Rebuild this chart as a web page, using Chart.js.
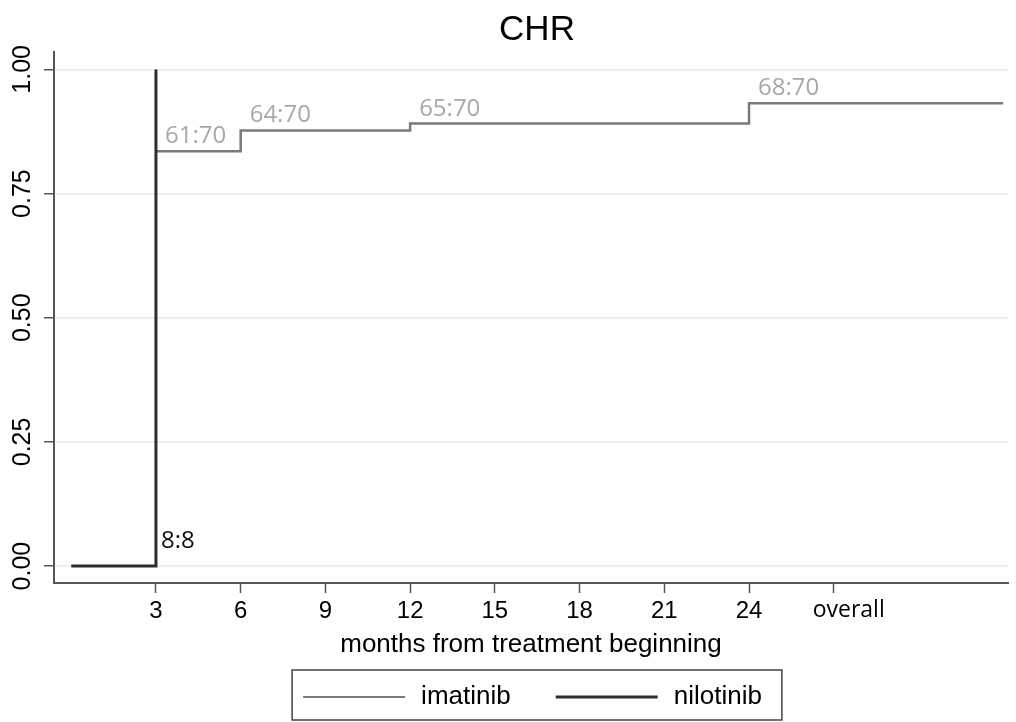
<!DOCTYPE html>
<html><head><meta charset="utf-8">
<script src="https://cdn.jsdelivr.net/npm/chart.js@4"></script>
<style>html,body{margin:0;padding:0;background:#fff;}#wrap{width:1016px;height:722px;}</style>
</head><body><div id="wrap"><canvas id="c" width="1016" height="722"></canvas></div>
<script>
// ---- data ----
const chartTitle = 'CHR';
const xAxisTitle = 'months from treatment beginning';
const seriesNames = ['imatinib', 'nilotinib'];
const imatinibMonths = [3, 6, 12, 24, 33];
const imatinibRates = [0.835, 0.877, 0.891, 0.932, 0.932];
const imatinibLabels = ['61:70', '64:70', '65:70', '68:70', ''];
const nilotinibMonths = [0, 3];
const nilotinibRates = [0, 1];
const nilotinibLabels = ['8:8', ''];
const xTickValues = [3, 6, 9, 12, 15, 18, 21, 24, 27];
const xTickLabels = ['3', '6', '9', '12', '15', '18', '21', '24', 'overall'];
const yTickValues = [0, 0.25, 0.5, 0.75, 1];
const yTickLabels = ['0.00', '0.25', '0.50', '0.75', '1.00'];

// ---- styles ----
const imatinibColor = '#7a7a7a';
const nilotinibColor = '#2e2e2e';
const imatinibLabelColor = '#a8a8a8';
const nilotinibLabelColor = '#111';
const axisColor = '#555';
const gridColor = '#e3ebef';
const sansFont = '"Liberation Sans", Arial, Helvetica, sans-serif';
const labelFont = '"Open Sans", sans-serif';

const toPoints = (xs, ys) => xs.map((x, i) => ({x: x, y: ys[i]}));

const decorPlugin = {
  id: 'decor',
  afterDatasetsDraw(chart) {
    const ctx = chart.ctx;
    ctx.save();
    ctx.font = '24px ' + labelFont;
    ctx.textAlign = 'left';
    ctx.textBaseline = 'alphabetic';
    const m0 = chart.getDatasetMeta(0).data;
    ctx.fillStyle = imatinibLabelColor;
    imatinibLabels.forEach((t, i) => {
      if (!t) return;
      ctx.fillText(t, m0[i].x + 9, m0[i].y - 8);
    });
    const m1 = chart.getDatasetMeta(1).data;
    ctx.fillStyle = nilotinibLabelColor;
    nilotinibLabels.forEach((t, i) => {
      if (!t || !m1[i + 1]) return;
      ctx.fillText(t, m1[i + 1].x + 5, m1[i].y - 18);
    });
    ctx.restore();
  },
  afterDraw(chart) {
    const ctx = chart.ctx;
    const ca = chart.chartArea;
    const cx = (ca.left + ca.right) / 2 + 6;
    ctx.save();
    ctx.fillStyle = '#000';
    ctx.font = '35px ' + sansFont;
    ctx.textAlign = 'center';
    ctx.textBaseline = 'alphabetic';
    ctx.fillText(chartTitle, cx, 40);
    ctx.font = '26px ' + sansFont;
    const lineLen = 102, gapText = 16, gapItems = 45, padL = 11, padR = 20;
    const w0 = ctx.measureText(seriesNames[0]).width;
    const w1 = ctx.measureText(seriesNames[1]).width;
    const boxW = padL + lineLen + gapText + w0 + gapItems + lineLen + gapText + w1 + padR;
    const boxL = cx - boxW / 2, boxT = 670, boxH = 50;
    ctx.strokeStyle = '#444';
    ctx.lineWidth = 1.5;
    ctx.strokeRect(boxL, boxT, boxW, boxH);
    const ly = boxT + boxH / 2 + 2;
    const colors = [imatinibColor, nilotinibColor];
    const widths = [2, 3];
    let x = boxL + padL;
    [w0, w1].forEach((w, i) => {
      ctx.strokeStyle = colors[i];
      ctx.lineWidth = widths[i];
      ctx.beginPath();
      ctx.moveTo(x, ly); ctx.lineTo(x + lineLen, ly);
      ctx.stroke();
      x += lineLen + gapText;
      ctx.fillStyle = '#000';
      ctx.textAlign = 'left';
      ctx.textBaseline = 'middle';
      ctx.fillText(seriesNames[i], x, ly);
      x += w + gapItems;
    });
    ctx.restore();
  }
};

new Chart(document.getElementById('c'), {
  type: 'line',
  data: {
    datasets: [
      {
        label: seriesNames[0],
        data: toPoints(imatinibMonths, imatinibRates),
        borderColor: imatinibColor,
        borderWidth: 2.5,
        stepped: 'before',
        pointRadius: 0,
        fill: false,
        order: 1
      },
      {
        label: seriesNames[1],
        data: toPoints(nilotinibMonths, nilotinibRates),
        borderColor: nilotinibColor,
        borderWidth: 3,
        stepped: 'before',
        pointRadius: 0,
        fill: false,
        order: 0
      }
    ]
  },
  options: {
    responsive: false,
    animation: false,
    devicePixelRatio: 1,
    layout: {padding: {top: 52, right: 8, bottom: 62, left: 0}},
    plugins: {legend: {display: false}, title: {display: false}, tooltip: {enabled: false}},
    scales: {
      x: {
        type: 'linear',
        min: -0.61,
        max: 33.17,
        afterBuildTicks: s => { s.ticks = xTickValues.map(v => ({value: v})); },
        afterFit: s => { s.height = 77; },
        grid: {drawOnChartArea: false, drawTicks: true, tickLength: 10, tickColor: axisColor, tickWidth: 1.5},
        border: {display: true, color: axisColor, width: 2},
        ticks: {
          autoSkip: false,
          maxRotation: 0,
          minRotation: 0,
          padding: 4,
          color: '#000',
          font: c => (c.tick && c.tick.value === 27) ? {family: labelFont, size: 23} : {family: sansFont, size: 24},
          callback: (v) => {
            const i = xTickValues.indexOf(v);
            if (i < 0) return '';
            return xTickValues[i] === 27 ? '     ' + xTickLabels[i] : xTickLabels[i];
          }
        },
        title: {display: true, text: xAxisTitle, color: '#000', font: {family: sansFont, size: 26}, padding: {top: 0, bottom: 0}}
      },
      y: {
        type: 'linear',
        min: -0.034,
        max: 1.035,
        afterBuildTicks: s => { s.ticks = yTickValues.map(v => ({value: v})); },
        afterFit: s => { s.width = 54; },
        grid: {color: gridColor, lineWidth: 1.5, drawTicks: true, tickLength: 10, tickColor: axisColor, tickWidth: 1.5},
        border: {display: true, color: axisColor, width: 2},
        ticks: {
          minRotation: 90,
          maxRotation: 90,
          crossAlign: 'center',
          padding: -3,
          color: '#000',
          font: {family: sansFont, size: 25},
          callback: (v) => {
            const i = yTickValues.indexOf(v);
            return i < 0 ? '' : yTickLabels[i];
          }
        }
      }
    }
  },
  plugins: [decorPlugin]
});
</script>
</body></html>
